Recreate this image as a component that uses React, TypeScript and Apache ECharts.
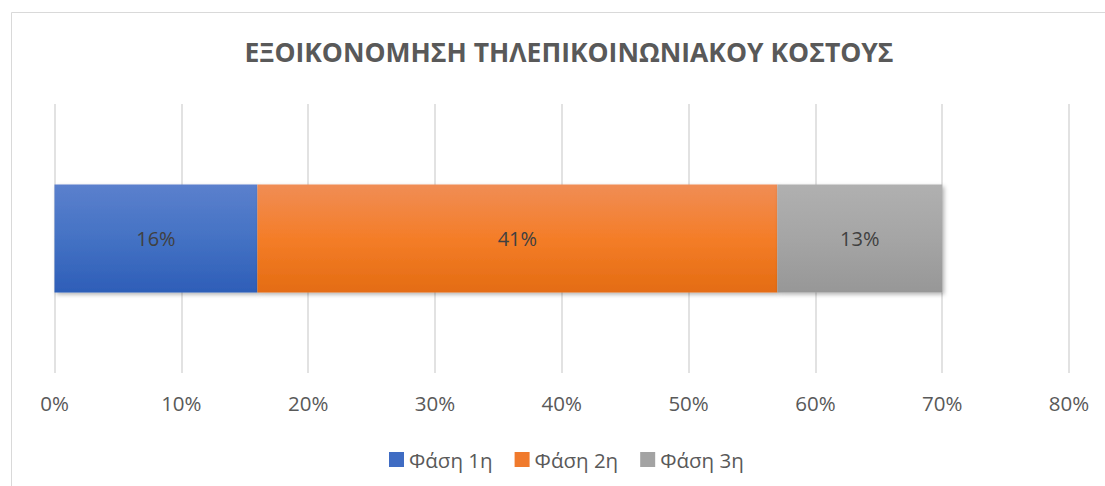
import React, { useEffect, useRef } from "react";
import * as echarts from "echarts";

const titleText = "ΕΞΟΙΚΟΝΟΜΗΣΗ ΤΗΛΕΠΙΚΟΙΝΩΝΙΑΚΟΥ ΚΟΣΤΟΥΣ";
const categories = [""];
const seriesNames = ["Φάση 1η", "Φάση 2η", "Φάση 3η"];
const phase1 = [0.16];
const phase2 = [0.41];
const phase3 = [0.13];
const seriesValues = [phase1, phase2, phase3];
const gradients: [string, string, string][] = [
  ["#5B80CD", "#4472C4", "#2E5EB8"],
  ["#F08D55", "#F47D28", "#E46C12"],
  ["#B0B0B0", "#A5A5A5", "#979797"],
];
const legendColors = ["#3F6CC3", "#F07A2C", "#A3A3A3"];

const FONT = "'Open Sans', 'Noto Sans', sans-serif";

export default function App() {
  const ref = useRef<HTMLDivElement>(null);
  useEffect(() => {
    if (!ref.current) return;
    const chart = echarts.init(ref.current, null, { renderer: "svg" });
    const series = seriesNames.map((name, i) => ({
      name,
      type: "bar",
      stack: "total",
      barWidth: 108,
      data: seriesValues[i],
      itemStyle: {
        color: new echarts.graphic.LinearGradient(0, 0, 0, 1, [
          { offset: 0, color: gradients[i][0] },
          { offset: 0.5, color: gradients[i][1] },
          { offset: 1, color: gradients[i][2] },
        ]),
        shadowBlur: 4,
        shadowOffsetX: 2,
        shadowOffsetY: 2,
        shadowColor: "rgba(0,0,0,0.3)",
      },
      label: {
        show: true,
        position: "inside",
        formatter: (p: any) => Math.round(p.value * 100) + "%",
        color: "#404040",
        fontSize: 20,
        fontFamily: FONT,
      },
    }));
    chart.setOption({
      animation: false,
      backgroundColor: "#ffffff",
      title: {
        text: titleText,
        left: 564,
        textAlign: "center",
        top: 33,
        textStyle: {
          color: "#595959",
          fontSize: 26.5,
          fontWeight: "bold",
          fontFamily: FONT,
        },
      },
      graphic: [
        {
          type: "rect",
          shape: { x: 11.5, y: 12.5, width: 1200, height: 600 },
          style: { fill: "none", stroke: "#d9d9d9", lineWidth: 1 },
          silent: true,
          z: -1,
        },
      ],
      legend: {
        data: seriesNames.map((n, i) => ({ name: n, itemStyle: { color: legendColors[i] } })),
        left: 384,
        top: 444,
        itemWidth: 15,
        itemHeight: 15,
        itemGap: 22,
        icon: "rect",
        textStyle: { color: "#595959", fontSize: 20.5, fontFamily: FONT },
      },
      grid: { left: 54.5, right: 36, top: 104, bottom: 113, containLabel: false },
      xAxis: {
        type: "value",
        min: 0,
        max: 0.8,
        interval: 0.1,
        axisLine: { show: false },
        axisTick: { show: false },
        splitLine: { lineStyle: { color: "#d9d9d9", width: 1.5 } },
        axisLabel: {
          formatter: (v: number) => Math.round(v * 100) + "%",
          color: "#595959",
          fontSize: 20.5,
          fontFamily: FONT,
          margin: 19,
        },
      },
      yAxis: {
        type: "category",
        data: categories,
        axisLine: { show: false },
        axisTick: { show: false },
        axisLabel: { show: false },
      },
      series,
    });
    return () => chart.dispose();
  }, []);
  return (
    <div
      ref={ref}
      style={{ position: "fixed", left: 0, top: 0, width: 1105, height: 486 }}
    />
  );
}
